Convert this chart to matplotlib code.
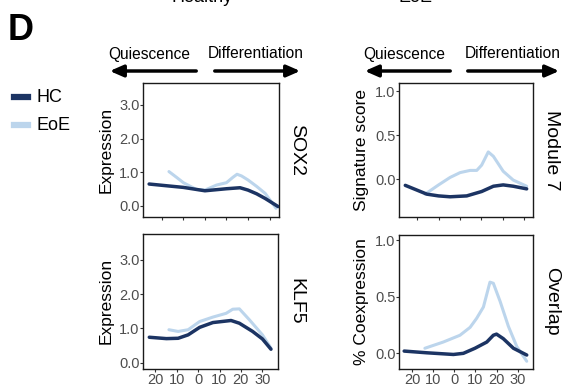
import matplotlib
matplotlib.use('Agg')
import matplotlib.pyplot as plt
from matplotlib.patches import FancyArrowPatch
from matplotlib.lines import Line2D

plt.rcParams['font.family'] = ['Liberation Sans', 'DejaVu Sans']

HC_COLOR = '#1c3463'
EOE_COLOR = '#bcd5ec'

# pseudotime positions and smoothed values
sox2_hc_x = [-25.9, -18, -10, -4, 0, 5, 10, 16.3, 20, 24, 28, 34]
sox2_hc_y = [0.65, 0.60, 0.55, 0.49, 0.45, 0.48, 0.51, 0.54, 0.47, 0.36, 0.22, -0.02]
sox2_eoe_x = [-16.7, -13, -10, -4, 0, 5.4, 10, 13, 14.9, 17, 20, 24, 28, 33]
sox2_eoe_y = [1.02, 0.84, 0.69, 0.49, 0.47, 0.62, 0.69, 0.85, 0.94, 0.89, 0.77, 0.58, 0.37, -0.07]

klf5_hc_x = [-22.9, -14.9, -9.4, -4.7, 0.7, 6.9, 15.4, 19.3, 25.5, 30.1, 34.1]
klf5_hc_y = [0.74, 0.70, 0.71, 0.81, 1.03, 1.17, 1.23, 1.15, 0.91, 0.69, 0.39]
klf5_eoe_x = [-13.7, -9.4, -4.7, 0.7, 6.9, 13.1, 16.2, 19.3, 24.0, 30.1, 34.1]
klf5_eoe_y = [0.96, 0.91, 0.96, 1.20, 1.33, 1.44, 1.56, 1.57, 1.25, 0.81, 0.42]

mod7_hc_x = [-25.7, -15.6, -10.1, -4.7, 3.1, 10.1, 15.6, 20.2, 24.9, 31.2]
mod7_hc_y = [-0.07, -0.17, -0.19, -0.20, -0.19, -0.14, -0.08, -0.065, -0.08, -0.11]
mod7_eoe_x = [-16.4, -10.1, -4.7, 0, 4.7, 7.8, 10.1, 13.2, 15.6, 20.2, 24.9, 31.2]
mod7_eoe_y = [-0.17, -0.065, 0.02, 0.075, 0.10, 0.10, 0.16, 0.31, 0.26, 0.09, -0.01, -0.08]

ovl_hc_x = [-23.7, -13.1, -0.4, 4.3, 9.8, 15.4, 18.5, 20.0, 23.2, 28.0, 34.3]
ovl_hc_y = [0.02, 0.005, -0.01, 0.0, 0.045, 0.10, 0.16, 0.17, 0.13, 0.045, -0.015]
ovl_eoe_x = [-13.9, -5.2, 2.7, 7.5, 10.6, 13.8, 16.9, 18.5, 21.7, 25.6, 29.6, 34.3]
ovl_eoe_y = [0.045, 0.10, 0.16, 0.23, 0.31, 0.41, 0.63, 0.62, 0.46, 0.24, 0.06, -0.07]

x_ticks = [-20, -10, 0, 10, 20, 30]
x_tick_labels = ['20', '10', '0', '10', '20', '30']

panels = [
    # rect, hc, eoe, xlim, ylim, yticks, ylabels, ylabel, strip, bottom
    ([0.2532, 0.4386, 0.2398, 0.3464], (sox2_hc_x, sox2_hc_y), (sox2_eoe_x, sox2_eoe_y), (-28.6, 34.4),
     (-0.32, 3.65), [0, 1, 2, 3], ['0.0', '1.0', '2.0', '3.0'], 'Expression', 'SOX2', False),
    ([0.2532, 0.0448, 0.2380, 0.3490], (klf5_hc_x, klf5_hc_y), (klf5_eoe_x, klf5_eoe_y), (-25.7, 37.4),
     (-0.18, 3.76), [0, 1, 2, 3], ['0.0', '1.0', '2.0', '3.0'], 'Expression', 'KLF5', True),
    ([0.7055, 0.4378, 0.2367, 0.3472], (mod7_hc_x, mod7_hc_y), (mod7_eoe_x, mod7_eoe_y), (-28.5, 34.3),
     (-0.43, 1.094), [0, 0.5, 1], ['0.0', '0.5', '1.0'], 'Signature score', 'Module 7', False),
    ([0.7055, 0.0448, 0.2367, 0.3472], (ovl_hc_x, ovl_hc_y), (ovl_eoe_x, ovl_eoe_y), (-26.0, 37.4),
     (-0.136, 1.05), [0, 0.5, 1], ['0.0', '0.5', '1.0'], '% Coexpression', 'Overlap', True),
]

fig = plt.figure(figsize=(5.66, 3.86), dpi=100)

for rect, hc, eoe, xlim, ylim, yt, ytl, ylab, strip, bottom in panels:
    ax = fig.add_axes(rect)
    ax.plot(eoe[0], eoe[1], color=EOE_COLOR, lw=2.2, solid_capstyle='round', zorder=2)
    ax.plot(hc[0], hc[1], color=HC_COLOR, lw=2.5, solid_capstyle='round', zorder=3)
    ax.set_xlim(*xlim)
    ax.set_ylim(*ylim)
    ax.set_xticks(x_ticks)
    ax.set_yticks(yt)
    ax.set_yticklabels(ytl)
    if bottom:
        ax.set_xticklabels(x_tick_labels)
    else:
        ax.set_xticklabels([])
    ax.tick_params(length=2, width=0.8, color='#333333', labelcolor='#4d4d4d',
                   labelsize=10.5, pad=0.8)
    for s in ax.spines.values():
        s.set_linewidth(1.0)
        s.set_color('#1a1a1a')
    ax.set_ylabel(ylab, fontsize=12.5, labelpad=4)
    ax.text(1.07, 0.5, strip, transform=ax.transAxes, rotation=-90,
            ha='left', va='center', fontsize=14)

# arrows above each column (pixel positions)
arrow_sets = [
    ((199, 71), (107, 71), (149, 54)),
    ((212, 71), (303, 71), (256, 54)),
    ((453, 71), (362, 71), (404, 54)),
    ((465, 71), (562, 71), (513, 54)),
]
arrow_texts = ['Quiescence', 'Differentiation', 'Quiescence', 'Differentiation']
for (start, end, tpos), txt in zip(arrow_sets, arrow_texts):
    fig.add_artist(FancyArrowPatch(
        (start[0] / 566, 1 - start[1] / 386), (end[0] / 566, 1 - end[1] / 386),
        transform=fig.transFigure, arrowstyle='-|>,head_length=8,head_width=3.5',
        mutation_scale=1, lw=2.5, color='black'))
    fig.text(tpos[0] / 566, 1 - tpos[1] / 386, txt, ha='center', va='center', fontsize=11.2)

# panel letter and cut-off column titles
fig.text(8 / 566, 1 - 30 / 386, 'D', fontsize=26, fontweight='bold', ha='left', va='center')
fig.text(202 / 566, 1 + 2 / 386, 'Healthy', fontsize=13, ha='center', va='center')
fig.text(415 / 566, 1 + 2 / 386, 'EoE', fontsize=13, ha='center', va='center')

# legend
for ypx, lab, col in [(97, 'HC', HC_COLOR), (125, 'EoE', EOE_COLOR)]:
    fig.add_artist(Line2D([14 / 566, 28 / 566], [1 - ypx / 386] * 2,
                          transform=fig.transFigure, color=col, lw=4.5))
    fig.text(36 / 566, 1 - ypx / 386, lab, fontsize=13, ha='left', va='center')

fig.savefig('out.png', dpi=100)
